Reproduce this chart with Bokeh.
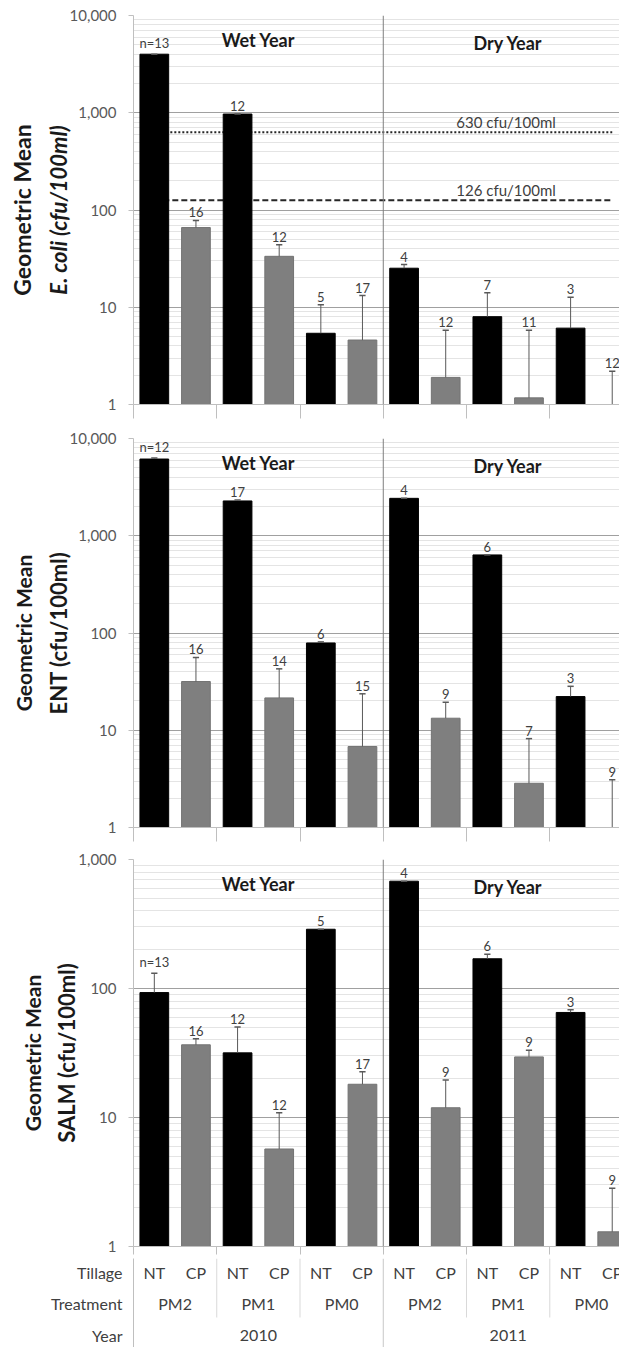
import numpy as np
from bokeh.plotting import figure
from bokeh.models import Range1d, FixedTicker, NumeralTickFormatter, Span, Title
from bokeh.layouts import column
from bokeh.embed import file_html
from bokeh.resources import INLINE
from bokeh.core.properties import value

# ---------------- data ----------------
tillage = ["NT", "CP"] * 6
treatment = ["PM2", "PM2", "PM1", "PM1", "PM0", "PM0"] * 2
year = ["2010"] * 6 + ["2011"] * 6
year_titles = ["Wet Year", "Dry Year"]
row_names = ["Tillage", "Treatment", "Year"]

ecoli_mean = [4000, 66, 970, 33.4, 5.4, 4.6, 25.2, 1.9, 8.0, 1.17, 6.1, 1.0]
ecoli_upper = [4000, 78, 970, 43.8, 10.6, 13.2, 27.5, 5.8, 14.1, 5.8, 12.7, 2.2]
ecoli_n = ["n=13", "16", "12", "12", "5", "17", "4", "12", "7", "11", "3", "12"]

ent_mean = [6150, 31.7, 2280, 21.5, 79, 6.8, 2425, 13.3, 635, 2.85, 22.2, 1.0]
ent_upper = [6300, 56, 2330, 42.8, 81, 23.7, 2425, 19.4, 635, 8.2, 28.3, 3.1]
ent_n = ["n=12", "16", "17", "14", "6", "15", "4", "9", "6", "7", "3", "9"]

salm_mean = [93, 36.6, 31.7, 5.7, 288, 18.1, 679, 11.9, 170, 29.5, 65.2, 1.30]
salm_upper = [131, 40.7, 50.3, 10.9, 288, 22.6, 679, 19.5, 184, 33.2, 68.4, 2.83]
salm_n = ["n=13", "16", "12", "12", "5", "17", "4", "9", "6", "9", "3", "9"]

thresholds = [630, 126]
threshold_labels = ["630 cfu/100ml", "126 cfu/100ml"]
threshold_dash = ["2 2", "6 3"]

# ---------------- layout constants ----------------
FONT = "Lato"
W = 619
LEFT = 131
PXU = 41.8
FRAME_W = W - LEFT
XEND = FRAME_W / PXU
N = len(tillage)
xs = [i + 0.5 for i in range(N)]
colors = ["#000000" if t == "NT" else "#7f7f7f" for t in tillage]
edge = ["#000000" if t == "NT" else "#737373" for t in tillage]
years = sorted(set(year))
year_centers = [float(np.mean([x for x, y in zip(xs, year) if y == yy])) for yy in years]
divider = [x - 0.5 for i, x in enumerate(xs) if i > 0 and year[i] != year[i - 1]][0]
group_edges = [x - 0.5 for x in xs[::2]]


def make_panel(mean, upper, nlab, ymax, height, btop, bbot, tick_out, line1,
               line2, l1_size, l2_size, l2_italic, thresh=False):
    p = figure(width=W, height=height, x_range=Range1d(0, XEND),
               y_range=Range1d(1, ymax), y_axis_type="log",
               output_backend="svg", toolbar_location=None,
               min_border_left=LEFT, min_border_right=0,
               min_border_top=btop, min_border_bottom=bbot)
    p.outline_line_color = None
    p.background_fill_color = "white"
    p.border_fill_color = "white"

    decs = int(round(np.log10(ymax)))
    majors = [10 ** k for k in range(decs + 1)]
    minors = [m * 10 ** k for k in range(decs) for m in range(2, 10)]
    p.yaxis.ticker = FixedTicker(ticks=majors, minor_ticks=minors)
    p.yaxis.formatter = NumeralTickFormatter(format="0,0")
    p.yaxis.axis_line_color = "#bfbfbf"
    p.yaxis.major_tick_line_color = "#bfbfbf"
    p.yaxis.major_tick_out = 5
    p.yaxis.major_tick_in = 0
    p.yaxis.minor_tick_line_color = None
    p.yaxis.major_label_text_font = FONT
    p.yaxis.major_label_text_font_size = "15px"
    p.yaxis.major_label_text_color = "#595959"
    p.yaxis.major_label_standoff = 12
    p.yaxis.axis_label = line2
    p.yaxis.axis_label_text_font = FONT
    p.yaxis.axis_label_text_font_style = "bold italic" if l2_italic else "bold"
    p.yaxis.axis_label_text_font_size = l2_size
    p.yaxis.axis_label_text_color = "#1a1a1a"
    p.yaxis.axis_label_standoff = -5
    p.ygrid.grid_line_color = "#a0a0a0"
    p.ygrid.minor_grid_line_color = "#e4e4e4"
    p.xgrid.visible = False

    p.xaxis.ticker = FixedTicker(ticks=group_edges)
    p.xaxis.major_tick_out = tick_out
    p.xaxis.major_tick_in = 0
    p.xaxis.major_tick_line_color = "#bfbfbf"
    p.xaxis.axis_line_color = "#bfbfbf"
    p.xaxis.minor_tick_line_color = None
    p.xaxis.major_label_overrides = {k: " " for k in group_edges}
    p.xaxis.major_label_text_font_size = "1px"
    p.xaxis.major_label_standoff = 0

    p.add_layout(Title(text=line1, align="center", text_font=FONT,
                       text_font_style="bold", text_font_size=l1_size,
                       text_color="#1a1a1a", standoff=11), "left")

    p.add_layout(Span(location=divider, dimension="height",
                      line_color="#7f7f7f", line_width=1))

    if thresh:
        for tv, tl, td in zip(thresholds, threshold_labels, threshold_dash):
            p.segment(x0=[xs[0]], x1=[xs[-1]], y0=[tv], y1=[tv],
                      line_dash=td, line_width=2, line_color="#262626")
            p.text(x=[year_centers[1] - 0.05], y=[tv], text=[tl],
                   text_font=value(FONT), text_font_size="15px",
                   text_color="#404040", text_align="center",
                   text_baseline="bottom", y_offset=-1)

    p.vbar(x=xs, top=mean, bottom=1, width=0.69, fill_color=colors,
           line_color=edge, line_width=1)

    cap = 0.075
    p.segment(x0=xs, x1=xs, y0=mean, y1=upper, line_color="#595959", line_width=1)
    p.segment(x0=[x - cap for x in xs], x1=[x + cap for x in xs],
              y0=upper, y1=upper, line_color="#595959", line_width=1.5)

    p.text(x=xs, y=upper, text=nlab, text_font=value(FONT),
           text_font_size="13px", text_color="#404040", text_align="center",
           text_baseline="bottom", y_offset=-3)

    top_log = np.log10(ymax)
    p.text(x=year_centers, y=[10 ** (0.9375 * top_log), 10 ** (0.93 * top_log)],
           text=year_titles, text_font=value(FONT), text_font_style="bold",
           text_font_size="18px", text_color="#1a1a1a", text_align="center",
           text_baseline="middle")
    return p


p1 = make_panel(ecoli_mean, ecoli_upper, ecoli_n, 10000, 429, 15, 25, 14,
                "Geometric Mean", "E. coli (cfu/100ml)", "23px", "22px", True,
                thresh=True)
p2 = make_panel(ent_mean, ent_upper, ent_n, 10000, 421, 9, 23, 14,
                "Geometric Mean", "ENT (cfu/100ml)", "21px", "22px", False)
p3 = make_panel(salm_mean, salm_upper, salm_n, 1000, 408, 9, 10, 8,
                "Geometric Mean", "SALM (cfu/100ml)", "21px", "22px", False)

# ---------------- category table below ----------------
TH = 89
row_y = [14, 45, 77]
t = figure(width=W, height=TH, x_range=Range1d(0, XEND),
           y_range=Range1d(TH, 0), output_backend="svg", toolbar_location=None,
           min_border_left=LEFT, min_border_right=0, min_border_top=0,
           min_border_bottom=0)
t.outline_line_color = None
t.xaxis.visible = False
t.grid.visible = False
t.yaxis.ticker = FixedTicker(ticks=row_y)
t.yaxis.major_label_overrides = {y: n for y, n in zip(row_y, row_names)}
t.yaxis.major_tick_out = 0
t.yaxis.major_tick_in = 0
t.yaxis.major_tick_line_color = None
t.yaxis.minor_tick_line_color = None
t.yaxis.axis_line_color = "#bfbfbf"
t.yaxis.major_label_text_font = FONT
t.yaxis.major_label_text_font_size = "16px"
t.yaxis.major_label_text_color = "#404040"
t.yaxis.major_label_standoff = 11

t.text(x=xs, y=[row_y[0]] * N, text=tillage, text_font=value(FONT),
       text_font_size="16px", text_color="#404040", text_align="center",
       text_baseline="middle")
tr_x = [(xs[i] + xs[i + 1]) / 2 for i in range(0, N, 2)]
t.text(x=tr_x, y=[row_y[1]] * len(tr_x), text=treatment[::2],
       text_font=value(FONT), text_font_size="16px", text_color="#404040",
       text_align="center", text_baseline="middle")
t.text(x=year_centers, y=[row_y[2]] * len(year_centers), text=years,
       text_font=value(FONT), text_font_size="16px", text_color="#404040",
       text_align="center", text_baseline="middle")
short = [g for g in group_edges[1:] if g != divider]
t.segment(x0=short, x1=short, y0=[0] * len(short), y1=[59] * len(short),
          line_color="#d9d9d9", line_width=1)
t.segment(x0=[divider], x1=[divider], y0=[0], y1=[TH],
          line_color="#c8c8c8", line_width=1)

layout = column(p1, p2, p3, t, spacing=0)
open("out.html", "w").write(file_html(layout, INLINE))
